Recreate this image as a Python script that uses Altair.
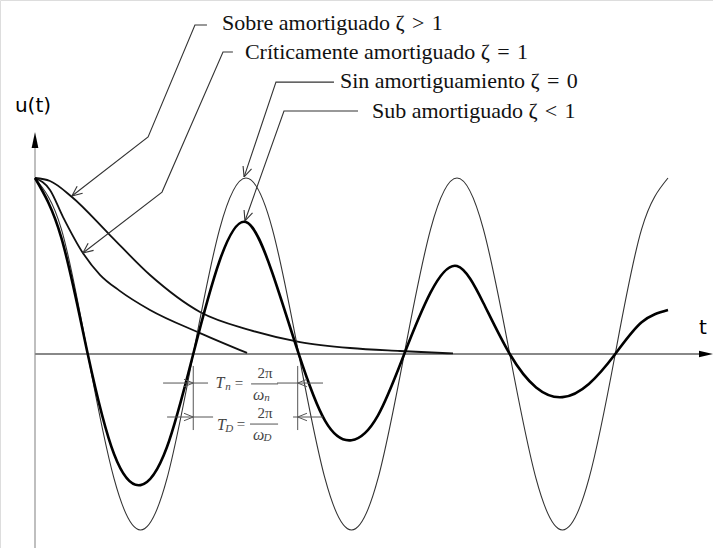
import math
import altair as alt
import pandas as pd

# ---------------------------------------------------------------
# Free vibration response u(t) for different damping ratios.
# Time is measured in natural periods T_n, displacement in units of u0.
# ---------------------------------------------------------------

# Oscillating responses, sampled every 1/8 period
t_osc = [0.0, 0.125, 0.25, 0.375, 0.5, 0.625, 0.75, 0.875,
         1.0, 1.125, 1.25, 1.375, 1.5, 1.625, 1.75, 1.875,
         2.0, 2.125, 2.25, 2.375, 2.5, 2.625, 2.75, 2.875, 3.0]
u_undamped = [1.0, 0.71, 0.0, -0.71, -1.0, -0.71, 0.0, 0.71,
              1.0, 0.71, 0.0, -0.71, -1.0, -0.71, 0.0, 0.71,
              1.0, 0.71, 0.0, -0.71, -1.0, -0.71, 0.0, 0.71, 1.0]
u_underdamped = [1.0, 0.66, 0.0, -0.57, -0.745, -0.53, 0.0, 0.53,
                 0.75, 0.46, 0.0, -0.38, -0.49, -0.35, 0.0, 0.35,
                 0.50, 0.29, 0.0, -0.19, -0.245, -0.17, 0.0, 0.18, 0.25]

# Non-oscillating responses
t_over = [0.0, 0.071, 0.175, 0.355, 0.545, 0.782, 1.019, 1.256, 1.493, 1.730, 1.981]
u_over = [1.0, 0.983, 0.892, 0.676, 0.449, 0.239, 0.136, 0.068, 0.034, 0.017, 0.003]
t_crit = [0.0, 0.071, 0.133, 0.227, 0.308, 0.40, 0.545, 0.782, 1.005]
u_crit = [1.0, 0.932, 0.778, 0.574, 0.450, 0.360, 0.250, 0.119, 0.006]

# Legend labels with their leader lines (text start -> elbow -> arrow tip)
SP = "\u2004"  # three-per-em space around the relation sign
labels = ["Sobre amortiguado ζ" + SP + ">" + SP + "1",
          "Críticamente amortiguado ζ" + SP + "=" + SP + "1",
          "Sin amortiguamiento ζ" + SP + "=" + SP + "0",
          "Sub amortiguado ζ" + SP + "<" + SP + "1"]
label_t = [0.886, 0.995, 1.445, 1.597]
label_u = [1.881, 1.716, 1.552, 1.381]
leader_t = [[0.815, 0.758, 0.536, 0.175],
            [0.938, 0.891, 0.602, 0.227],
            [1.417, 1.142, 0.991],
            [1.531, 1.180, 0.995]]
leader_u = [[1.869, 1.869, 1.233, 0.898],
            [1.716, 1.716, 0.920, 0.574],
            [1.545, 1.545, 1.006],
            [1.381, 1.381, 0.756]]

# Period dimension lines (zero crossings and row heights)
dim_t_left, dim_t_right = 0.75, 1.245
dim_rows_u = [-0.165, -0.358]
dim_ext_left = [0.607, 0.626]
dim_ext_right = [1.365, 1.365]
dim_inner_left = [0.82, 0.844]
dim_inner_right = [1.147, 1.223]
dim_vert_u = [-0.068, -0.432]

# Plot window in data units and pixel scale factors
T_MIN, T_MAX = -35 / 211, 678 / 211
U_MIN, U_MAX = -194 / 176, 354 / 176
PX_T, PX_U = 211.0, 176.0

X = alt.Scale(domain=[T_MIN, T_MAX], nice=False, zero=False)
Y = alt.Scale(domain=[U_MIN, U_MAX], nice=False, zero=False)


def enc(**extra):
    return dict(x=alt.X("t:Q", scale=X, axis=None),
                y=alt.Y("u:Q", scale=Y, axis=None), **extra)


def renc():
    return dict(x=alt.X("t:Q", scale=X, axis=None),
                y=alt.Y("u:Q", scale=Y, axis=None),
                x2="t2:Q", y2="u2:Q")


def arrowhead(tip, prev, length=11.0, half_angle=24.0):
    dx = (tip[0] - prev[0]) * PX_T
    dy = (tip[1] - prev[1]) * PX_U
    ang = math.atan2(dy, dx)
    out = []
    for s in (1, -1):
        a = ang + math.pi + s * math.radians(half_angle)
        out.append(dict(t=tip[0], u=tip[1],
                        t2=tip[0] + length * math.cos(a) / PX_T,
                        u2=tip[1] + length * math.sin(a) / PX_U))
    return out


# ---- curves ----
df_und = pd.DataFrame({"t": t_osc, "u": u_undamped})
df_sub = pd.DataFrame({"t": t_osc, "u": u_underdamped})
df_over = pd.DataFrame({"t": t_over, "u": u_over})
df_crit = pd.DataFrame({"t": t_crit, "u": u_crit})

undamped = alt.Chart(df_und).mark_line(interpolate="natural", color="#333", strokeWidth=1.1).encode(**enc())
under = alt.Chart(df_sub).mark_line(interpolate="natural", color="#000", strokeWidth=2.6).encode(**enc())
over = alt.Chart(df_over).mark_line(interpolate="monotone", color="#111", strokeWidth=1.8).encode(**enc())
crit = alt.Chart(df_crit).mark_line(interpolate="monotone", color="#111", strokeWidth=1.8).encode(**enc())

# ---- axes with arrow heads ----
axes_df = pd.DataFrame([
    dict(t=0.0, u=(354 - 148) / 176, t2=0.0, u2=U_MIN, c="v"),
    dict(t=0.0, u=0.0, t2=(700 - 35) / 211, u2=0.0, c="h"),
])
v_axis = alt.Chart(axes_df[axes_df.c == "v"]).mark_rule(color="#aaa", strokeWidth=1.5).encode(**renc())
h_axis = alt.Chart(axes_df[axes_df.c == "h"]).mark_rule(color="#888", strokeWidth=2).encode(**renc())
up_tip = alt.Chart(pd.DataFrame({"t": [0.0], "u": [(354 - 140) / 176]})).mark_point(
    shape="M0,-1L0.42,1L-0.42,1Z", size=256, filled=True, color="#000", opacity=1).encode(**enc())
right_tip = alt.Chart(pd.DataFrame({"t": [(706 - 35) / 211], "u": [0.0]})).mark_point(
    shape="M1,0L-1,-0.48L-1,0.48Z", size=196, filled=True, color="#000", opacity=1).encode(**enc())

axis_labels = pd.DataFrame({"t": [-0.0095, 3.166], "u": [1.409, 0.148], "s": ["u(t)", "t"]})
axis_text = alt.Chart(axis_labels).mark_text(font="DejaVu Sans", fontSize=20, color="#000",
                                             align="center", baseline="middle").encode(**enc(text="s:N"))

# ---- damping labels and leaders ----
lab_df = pd.DataFrame({"t": label_t, "u": label_u, "s": labels})
lab_text = alt.Chart(lab_df).mark_text(font="Liberation Serif", fontSize=22, color="#111",
                                       align="left", baseline="middle").encode(**enc(text="s:N"))

lead_rows, head_rows = [], []
for k, (ts, us) in enumerate(zip(leader_t, leader_u)):
    for i, (tt, uu) in enumerate(zip(ts, us)):
        lead_rows.append(dict(t=tt, u=uu, k=k, i=i))
    head_rows += arrowhead((ts[-1], us[-1]), (ts[-2], us[-2]))
lead_df = pd.DataFrame(lead_rows)
leaders = alt.Chart(lead_df).mark_line(color="#333", strokeWidth=1.1).encode(
    **enc(detail="k:N", order="i:Q"))
heads = alt.Chart(pd.DataFrame(head_rows)).mark_rule(color="#333", strokeWidth=1.1).encode(**renc())

# ---- period dimension lines ----
dim_rows = []
for r, uu in enumerate(dim_rows_u):
    dim_rows.append(dict(t=dim_ext_left[r], u=uu, t2=dim_inner_left[r], u2=uu))
    dim_rows.append(dict(t=dim_inner_right[r], u=uu, t2=dim_ext_right[r], u2=uu))
for tt in (dim_t_left, dim_t_right):
    dim_rows.append(dict(t=tt, u=dim_vert_u[0], t2=tt, u2=dim_vert_u[1]))
dim_heads = []
for uu in dim_rows_u:
    dim_heads += arrowhead((dim_t_left, uu), (dim_t_left - 0.1, uu), length=10, half_angle=22)
    dim_heads += arrowhead((dim_t_right, uu), (dim_t_right + 0.1, uu), length=10, half_angle=22)
# fraction bars
dim_rows.append(dict(t=1.024, u=-0.170, t2=1.152, u2=-0.170))
dim_rows.append(dict(t=1.019, u=-0.398, t2=1.152, u2=-0.398))
dims = alt.Chart(pd.DataFrame(dim_rows + dim_heads)).mark_rule(color="#555", strokeWidth=1).encode(**renc())

ital = pd.DataFrame({
    "t": [0.877, 0.884, 1.060, 1.060],
    "u": [-0.165, -0.403, -0.233, -0.460],
    "s": ["T", "T", "ω", "ω"]})
ital_sub = pd.DataFrame({
    "t": [0.915, 0.920, 1.100, 1.102],
    "u": [-0.190, -0.424, -0.250, -0.477],
    "s": ["n", "D", "n", "D"]})
upright = pd.DataFrame({
    "t": [0.967, 0.976, 1.090, 1.090],
    "u": [-0.165, -0.398, -0.110, -0.337],
    "s": ["=", "=", "2π", "2π"]})
dim_t1 = alt.Chart(ital).mark_text(font="Liberation Serif", fontStyle="italic", fontSize=16,
                                   color="#444", baseline="middle").encode(**enc(text="s:N"))
dim_t2 = alt.Chart(ital_sub).mark_text(font="Liberation Serif", fontStyle="italic", fontSize=11,
                                       color="#444", baseline="middle").encode(**enc(text="s:N"))
dim_t3 = alt.Chart(upright).mark_text(font="Liberation Serif", fontSize=15,
                                      color="#444", baseline="middle").encode(**enc(text="s:N"))

chart = alt.layer(
    v_axis, h_axis, up_tip, right_tip, axis_text,
    over, crit, undamped, under,
    leaders, heads, lab_text,
    dims, dim_t1, dim_t2, dim_t3,
).properties(
    width=713, height=548,
    autosize=alt.AutoSizeParams(type="none"),
    padding=0,
).configure_view(stroke=None).configure(background="white")

chart.save("out.html", embed_options={"renderer": "svg", "actions": False})
